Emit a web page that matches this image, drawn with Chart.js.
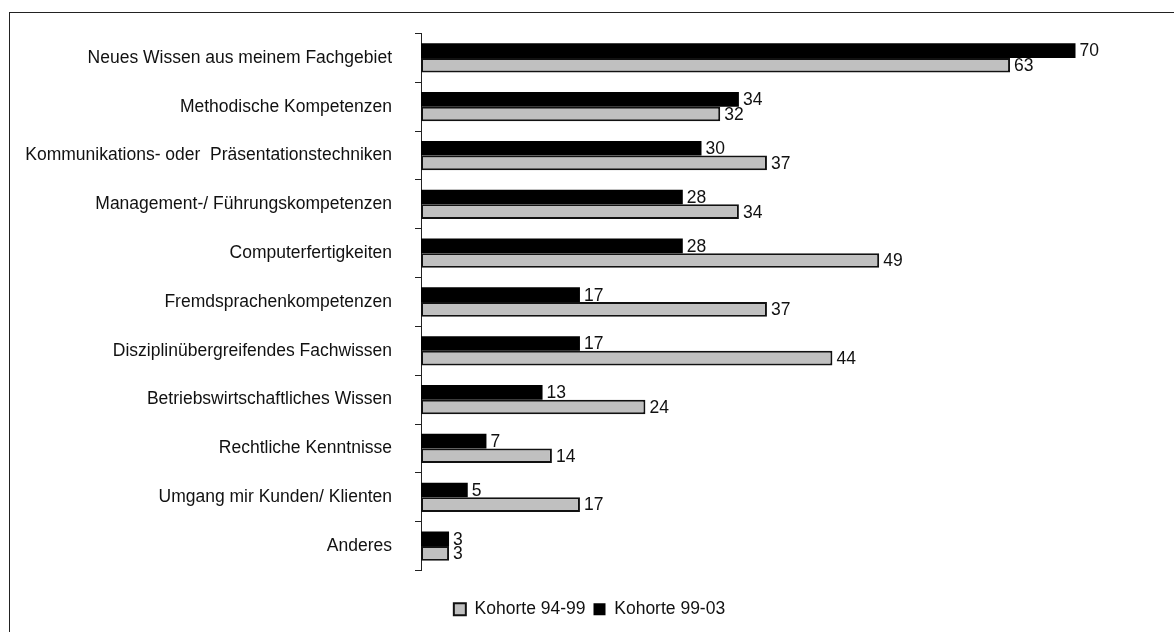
<!DOCTYPE html>
<html>
<head>
<meta charset="utf-8">
<script src="https://cdn.jsdelivr.net/npm/chart.js@4.4.1/dist/chart.umd.min.js"></script>
<style>
    html, body { margin: 0; padding: 0; background: #fff; overflow: hidden; }
    #frame { position: absolute; left: 9px; top: 12px; width: 1200px; height: 700px; border: 1.5px solid #222; }
    #wrap { position: absolute; left: 0; top: 0; width: 1174px; height: 632px; }
</style>
</head>
<body>
<div id="frame"></div>
<div id="wrap"><canvas id="skillsChart"></canvas></div>
<script>
const categories = [
    "Neues Wissen aus meinem Fachgebiet",
    "Methodische Kompetenzen",
    "Kommunikations- oder  Präsentationstechniken",
    "Management-/ Führungskompetenzen",
    "Computerfertigkeiten",
    "Fremdsprachenkompetenzen",
    "Disziplinübergreifendes Fachwissen",
    "Betriebswirtschaftliches Wissen",
    "Rechtliche Kenntnisse",
    "Umgang mir Kunden/ Klienten",
    "Anderes"
];
const kohorte9903 = [70, 34, 30, 28, 28, 17, 17, 13, 7, 5, 3];
const kohorte9499 = [63, 32, 37, 34, 49, 37, 44, 24, 14, 17, 3];

const labelFont = "'Liberation Sans Narrow', 'Arial Narrow', 'Liberation Sans', sans-serif";
const fontSize = 17.5;

// draws the value next to the end of each bar
const valueLabels = {
    id: 'valueLabels',
    afterDatasetsDraw(chart) {
        const ctx = chart.ctx;
        ctx.save();
        ctx.font = fontSize + "px " + labelFont;
        ctx.fillStyle = "#111";
        ctx.textAlign = "left";
        ctx.textBaseline = "middle";
        chart.data.datasets.forEach((ds, i) => {
            const meta = chart.getDatasetMeta(i);
            meta.data.forEach((bar, j) => {
                ctx.fillText(ds.data[j], bar.x + 4, bar.y + 1);
            });
        });
        ctx.restore();
    }
};

new Chart(document.getElementById("skillsChart"), {
    type: "bar",
    data: {
        labels: categories,
        datasets: [
            {
                label: "Kohorte 99-03",
                data: kohorte9903,
                backgroundColor: "#000000",
                borderWidth: 0,
                categoryPercentage: 0.6,
                barPercentage: 1.0
            },
            {
                label: "Kohorte 94-99",
                data: kohorte9499,
                backgroundColor: "#c0c0c0",
                borderColor: "#111111",
                borderWidth: 2,
                borderSkipped: false,
                categoryPercentage: 0.6,
                barPercentage: 1.0
            }
        ]
    },
    options: {
        indexAxis: "y",
        responsive: true,
        maintainAspectRatio: false,
        animation: false,
        layout: { padding: { top: 33, right: 5, left: 10, bottom: 4 } },
        scales: {
            x: {
                display: true,
                min: 0,
                max: 80,
                grid: { display: false },
                border: { display: false },
                ticks: { display: false },
                afterFit: (scale) => { scale.height = 22; }
            },
            y: {
                grid: { display: true, drawOnChartArea: false, tickLength: 6, color: "#222", offset: true },
                border: { display: true, color: "#222", width: 1 },
                ticks: {
                    color: "#111",
                    padding: 23,
                    font: { family: labelFont, size: fontSize }
                },
                afterFit: (scale) => { scale.width = 411; }
            }
        },
        plugins: {
            legend: {
                position: "bottom",
                reverse: true,
                labels: {
                    color: "#111",
                    boxWidth: 12,
                    boxHeight: 12,
                    padding: 8,
                    font: { family: labelFont, size: fontSize }
                }
            },
            tooltip: { enabled: false }
        }
    },
    plugins: [valueLabels]
});
</script>
</body>
</html>
